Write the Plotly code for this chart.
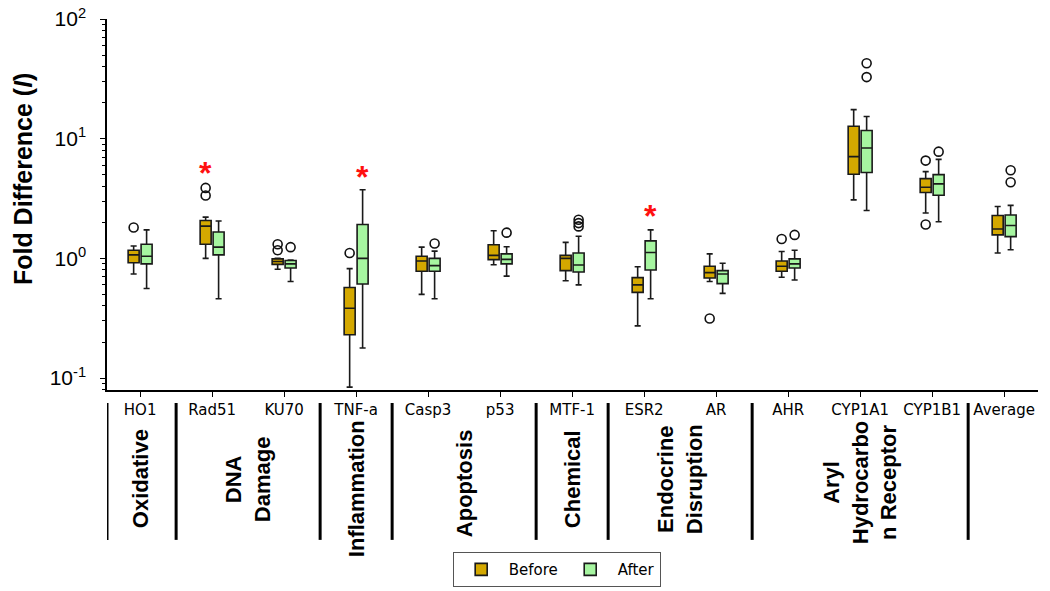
import math
import plotly.graph_objects as go

genes = ["HO1", "Rad51", "KU70", "TNF-a", "Casp3", "p53", "MTF-1", "ESR2", "AR",
         "AHR", "CYP1A1", "CYP1B1", "Average"]

# Before (yellow)
before_lo = [0.74, 1.00, 0.81, 0.084, 0.50, 0.885, 0.65, 0.273, 0.64, 0.695, 3.08, 2.39, 1.11]
before_q1 = [0.92, 1.31, 0.89, 0.23, 0.78, 0.975, 0.79, 0.52, 0.685, 0.78, 5.04, 3.55, 1.57]
before_med = [1.07, 1.86, 0.94, 0.383, 0.95, 1.06, 1.00, 0.60, 0.76, 0.86, 7.08, 3.93, 1.76]
before_q3 = [1.17, 2.07, 0.99, 0.57, 1.04, 1.30, 1.06, 0.69, 0.86, 0.95, 12.7, 4.64, 2.28]
before_hi = [1.27, 2.21, 1.00, 0.82, 1.24, 1.70, 1.36, 0.85, 1.09, 1.14, 17.5, 5.31, 2.71]
before_out = [[1.81], [3.35, 3.88], [1.17, 1.31], [1.11], [], [], [], [], [0.314],
              [1.45], [], [1.92, 6.56], []]

# After (green)
after_lo = [0.56, 0.46, 0.64, 0.178, 0.46, 0.71, 0.60, 0.46, 0.51, 0.66, 2.51, 2.02, 1.18]
after_q1 = [0.90, 1.07, 0.83, 0.61, 0.78, 0.90, 0.77, 0.80, 0.615, 0.83, 5.21, 3.37, 1.52]
after_med = [1.04, 1.24, 0.90, 1.00, 0.87, 0.98, 0.88, 1.12, 0.74, 0.90, 8.36, 4.19, 1.88]
after_q3 = [1.31, 1.66, 0.96, 1.92, 1.00, 1.09, 1.11, 1.40, 0.79, 0.99, 11.7, 5.01, 2.30]
after_hi = [1.73, 2.05, 0.97, 3.74, 1.15, 1.25, 1.53, 1.73, 0.91, 1.17, 15.3, 6.72, 2.77]
after_out = [[], [], [1.24], [], [1.33], [1.64], [1.85, 1.97, 2.10], [], [],
             [1.57], [32.7, 42.7], [7.79], [4.32, 5.44]]

# significance markers: (gene, series, y-value)
sig_marks = [("Rad51", "Before", 5.7), ("TNF-a", "After", 5.3), ("ESR2", "After", 2.5)]

groups = [("Oxidative", 1), ("DNA<br>Damage", 2), ("Inflammation", 1), ("Apoptosis", 2),
          ("Chemical", 1), ("Endocrine<br>Disruption", 2),
          ("Aryl<br>Hydrocarbo<br>n Receptor", 3), ("", 1)]

# per-label vertical nudges (pixels) for the rotated group labels
label_nudge = {"Inflammation": -10, "Apoptosis": -4, "Aryl<br>Hydrocarbo<br>n Receptor": -4}

before_color = "#D4A800"
after_color = "#A6F5A0"

fig = go.Figure()


def add_box(name, lo, q1, med, q3, hi, outs, color):
    # rows without outliers get a single null placeholder (nothing is drawn)
    rows = [list(o) if o else [None] for o in outs]
    fig.add_trace(go.Box(
        name=name,
        x=genes,
        y=rows,
        lowerfence=lo, q1=q1, median=med, q3=q3, upperfence=hi,
        boxpoints="outliers", pointpos=0, jitter=0,
        fillcolor=color,
        line=dict(color="#1a1a1a", width=1.6),
        whiskerwidth=0.55,
        marker=dict(symbol="circle-open", color="#111111", size=9,
                    line=dict(width=1.6, color="#111111"),
                    outliercolor="#111111"),
    ))


add_box("Before", before_lo, before_q1, before_med, before_q3, before_hi, before_out, before_color)
add_box("After", after_lo, after_q1, after_med, after_q3, after_hi, after_out, after_color)

for gene, series, val in sig_marks:
    fig.add_annotation(x=gene, y=math.log10(val), xref="x", yref="y",
                       text="<b>*</b>", showarrow=False,
                       xshift=-6.5 if series == "Before" else 6.5, yshift=-5,
                       font=dict(family="Liberation Sans, Arial", size=32, color="#FF1010"))

# y-axis title
fig.add_annotation(x=-0.09, y=0.569, xref="paper", yref="paper",
                   text="<b>Fold Difference (<i>I</i>)</b>", textangle=-90, showarrow=False,
                   xanchor="center", yanchor="middle",
                   font=dict(family="Liberation Sans, Arial", size=25, color="black"))

# group separators and labels
xmin, xmax = -0.46, 12.47
sep_top, sep_bot = -0.035, -0.404
pos = -0.5
fig.add_shape(type="line", xref="x", yref="paper", x0=xmin, x1=xmin, y0=sep_top, y1=sep_bot,
              line=dict(color="black", width=3))
for label, n in groups:
    center = pos + n / 2.0
    end = pos + n
    if label:
        fig.add_annotation(x=center, y=-0.24, xref="x", yref="paper", text="<b>" + label + "</b>",
                           textangle=-90, showarrow=False, align="center",
                           xanchor="center", yanchor="middle",
                           yshift=label_nudge.get(label, 0),
                           font=dict(family="Liberation Sans, Arial", size=22, color="black"))
    if end < len(genes) - 1:
        fig.add_shape(type="line", xref="x", yref="paper", x0=end, x1=end, y0=sep_top, y1=sep_bot,
                      line=dict(color="black", width=3))
    pos = end

fig.update_layout(
    width=1050, height=591, autosize=False,
    template="none",
    boxmode="group", boxgap=0.64, boxgroupgap=0.15,
    plot_bgcolor="white", paper_bgcolor="white",
    margin=dict(l=107, r=12, t=19, b=201, autoexpand=False),
    showlegend=True,
    legend=dict(orientation="h", x=0.483, xanchor="center", y=-0.437, yanchor="top",
                bordercolor="#555555", borderwidth=1, bgcolor="white",
                font=dict(family="DejaVu Sans", size=15, color="black"),
                itemwidth=45, traceorder="normal"),
    xaxis=dict(type="category", range=[xmin, xmax], automargin=False, showline=True,
               linecolor="black", linewidth=1.5, ticks="outside", ticklen=5, tickcolor="black",
               showgrid=False, zeroline=False,
               tickfont=dict(family="DejaVu Sans", size=15, color="black")),
    yaxis=dict(type="log", range=[-1.1, 2.0], automargin=False, showline=True, linecolor="black",
               linewidth=1.5, ticks="outside", ticklen=5, tickcolor="black", showgrid=False,
               zeroline=False, ticklabelstandoff=10,
               tickvals=[0.1, 1, 10, 100],
               ticktext=["10<sup>-1</sup>", "10<sup>0</sup>", "10<sup>1</sup>", "10<sup>2</sup>"],
               tickfont=dict(family="Liberation Sans, Arial", size=21, color="black"),
               minor=dict(ticks="outside", ticklen=3, tickcolor="black", dtick="D1", showgrid=False)),
)

fig.write_html("out.html",
               config={"displayModeBar": False, "responsive": False},
               post_script="document.body.style.margin='0px';document.body.style.overflow='hidden';")
